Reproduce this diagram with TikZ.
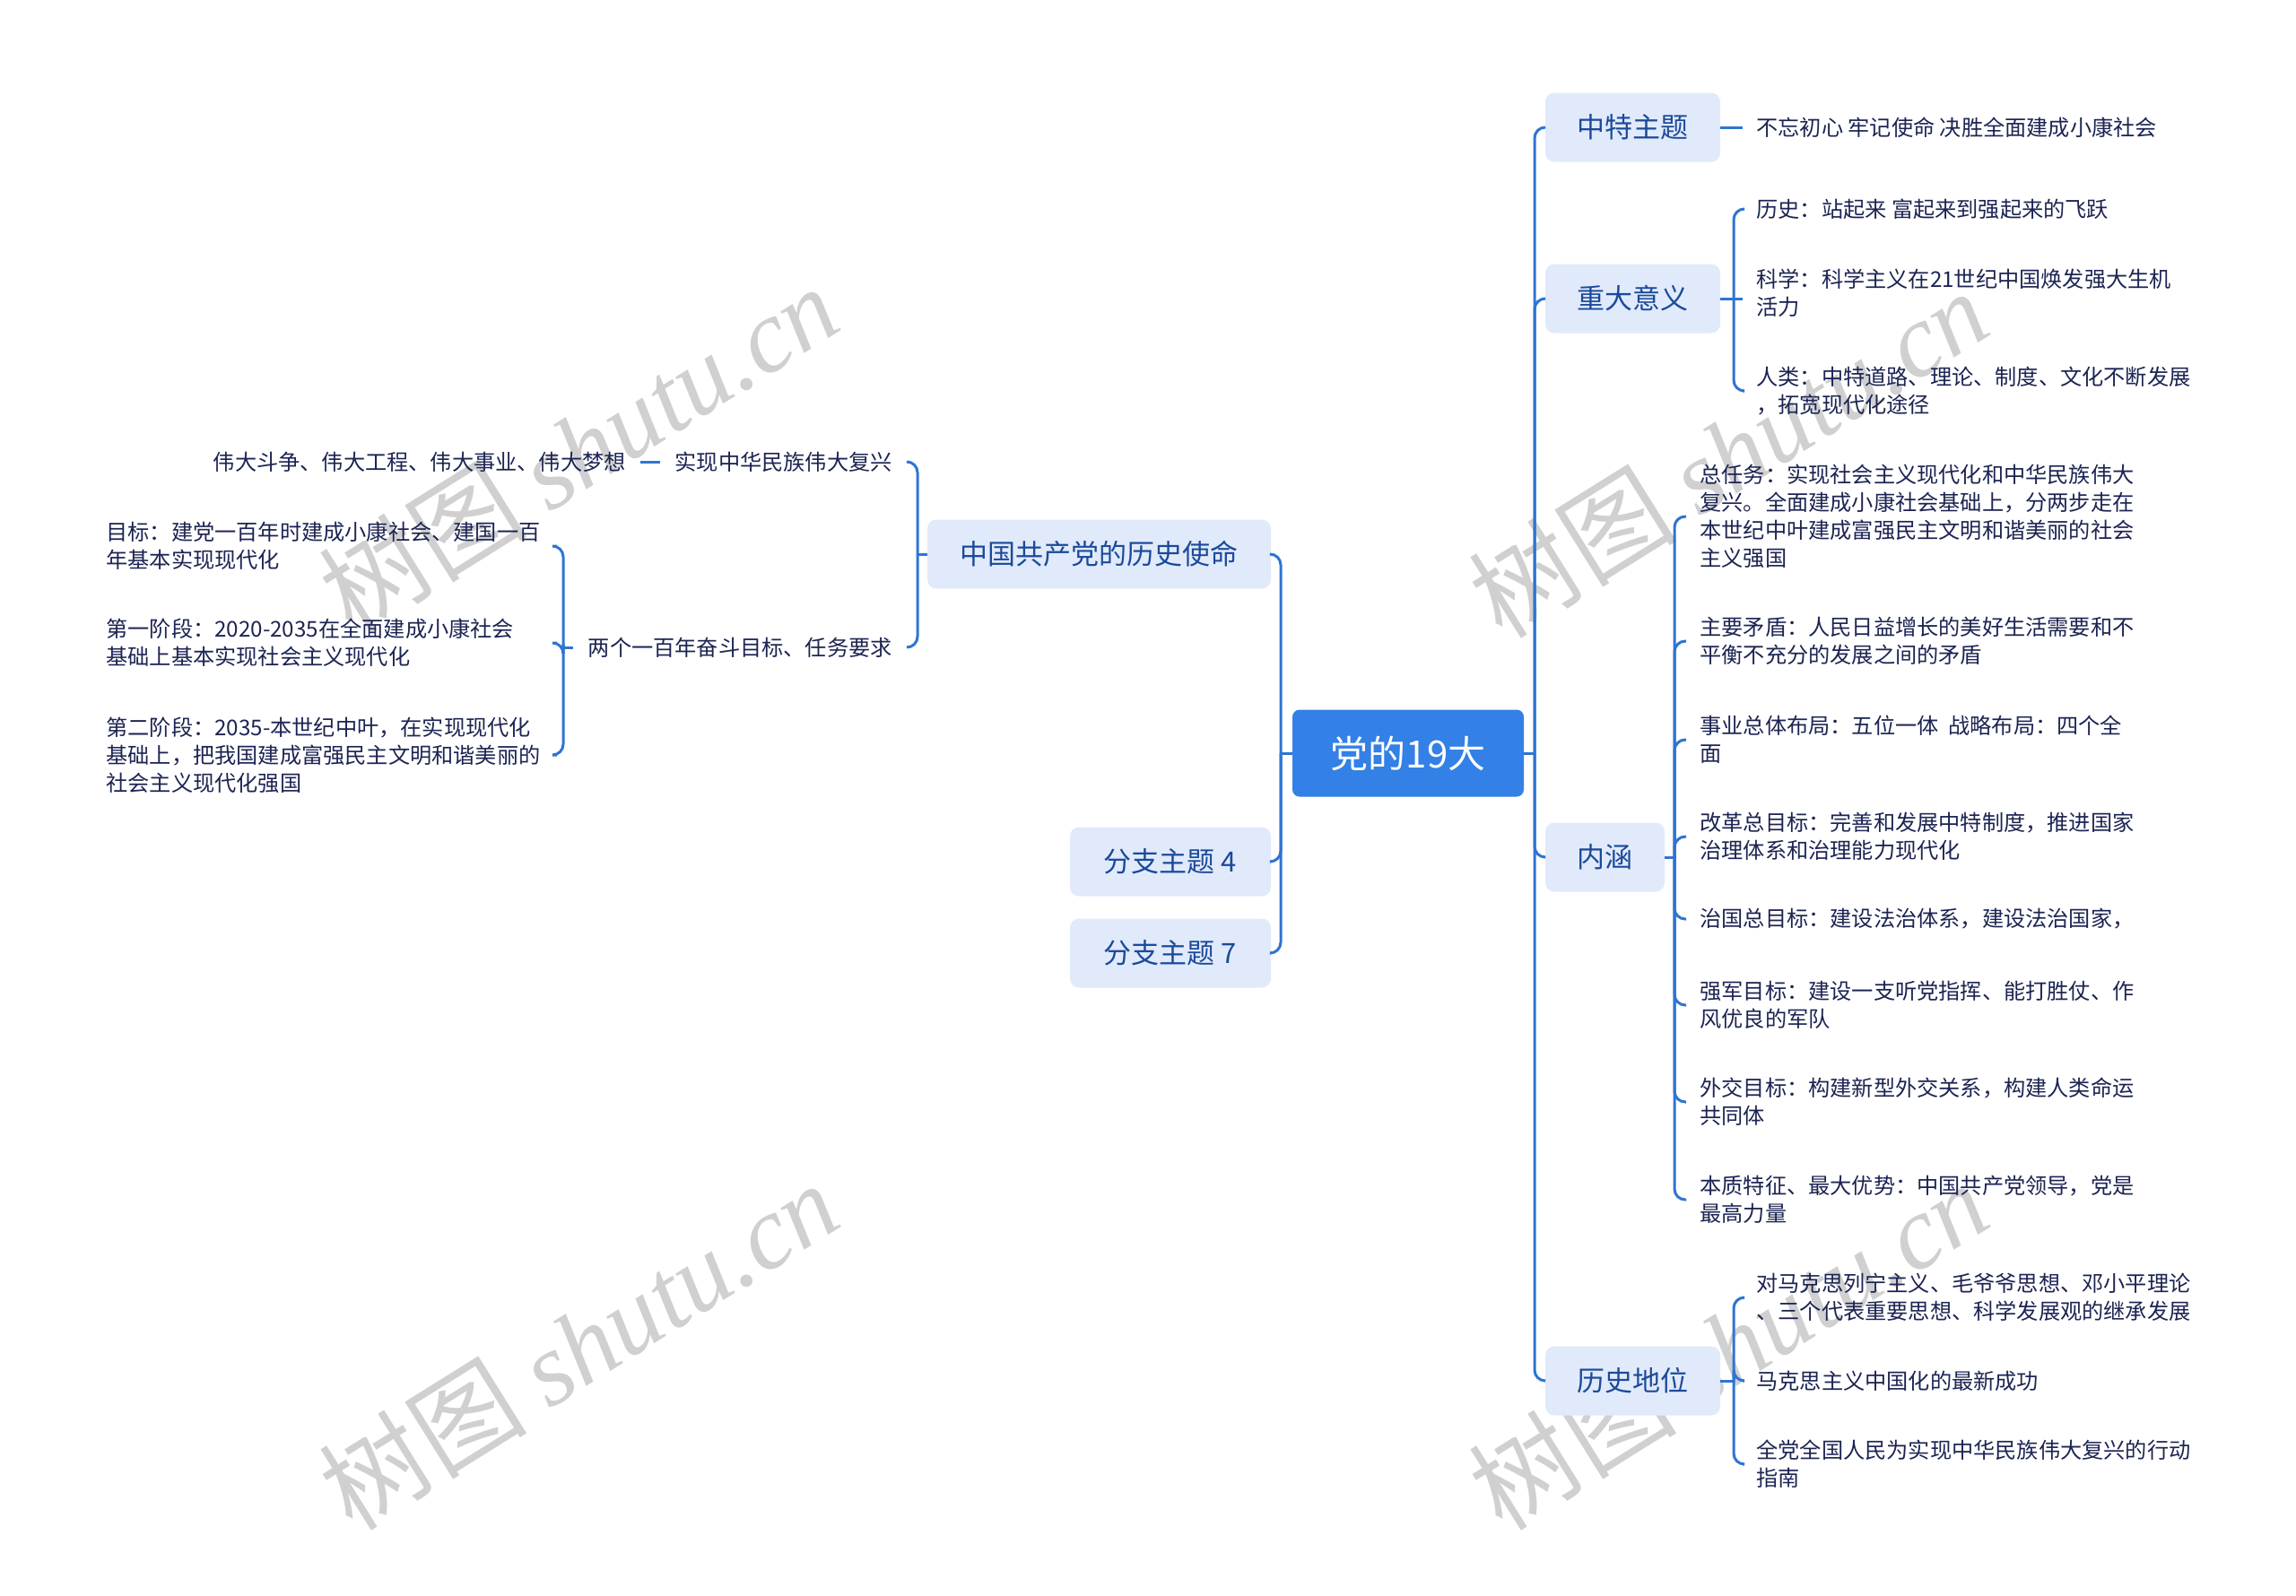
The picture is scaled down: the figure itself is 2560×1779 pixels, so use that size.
\documentclass[tikz,border=0pt]{standalone}
\usepackage{fontspec}
\setmainfont{Noto Sans CJK SC}
\newfontfamily\wmlatin{Liberation Serif}
\definecolor{lineblue}{HTML}{2F74D3}
\definecolor{rootblue}{HTML}{3380E6}
\definecolor{boxfill}{HTML}{E1EAFB}
\definecolor{maintext}{HTML}{1B4A9A}
\definecolor{childtext}{HTML}{1C2452}
\definecolor{wmgray}{HTML}{D0D0D0}
\begin{document}
\begin{tikzpicture}[x=0.5pt,y=-0.5pt,
  conn/.style={draw=lineblue, line width=1.5pt, rounded corners=6pt},
  rootbox/.style={fill=rootblue, rounded corners=4pt, text=white, font=\fontsize{21}{25}\selectfont, minimum width=129pt, minimum height=48.5pt, inner sep=0pt},
  mainbox/.style={fill=boxfill, rounded corners=5pt, text=maintext, font=\fontsize{15.5}{19}\selectfont, minimum height=38.5pt, inner sep=0pt},
  leaf/.style={text=childtext, font=\fontsize{12.1}{15.5}\selectfont, align=left, inner ysep=0pt, inner xsep=7.5pt},
  leftleaf/.style={leaf, inner xsep=6pt, text width=245pt},
  midleaf/.style={leaf, inner xsep=8pt},
  wm/.style={text=wmgray, rotate=32, font=\fontsize{58}{64}\selectfont}
]
\useasboundingbox (0,0) rectangle (2560,1779);

% watermarks
\node[wm] (wm1) at (645,500) {树图 {\wmlatin\itshape shutu.cn}};
\node[wm] (wm2) at (645,1500) {树图 {\wmlatin\itshape shutu.cn}};
\node[wm] (wm3) at (1927,505) {树图 {\wmlatin\itshape shutu.cn}};
\node[wm] (wm4) at (1927,1500) {树图 {\wmlatin\itshape shutu.cn}};

% root
\node[rootbox] (root) at (1570,840) {党的19大};
\coordinate (jR) at (1711,840);
\coordinate (jL) at (1428,840);

% right main branches
\node[mainbox, minimum width=97.5pt] (zt) at (1820.5,142) {中特主题};
\node[mainbox, minimum width=97.5pt] (zd) at (1820.5,333) {重大意义};
\node[mainbox, minimum width=66.5pt] (nh) at (1789.5,956) {内涵};
\node[mainbox, minimum width=97.5pt] (ls) at (1820.5,1540) {历史地位};

% left main branches
\node[mainbox, minimum width=191.5pt] (sm) at (1225.5,618) {中国共产党的历史使命};
\node[mainbox, minimum width=112pt] (b4) at (1305,961) {分支主题 4};
\node[mainbox, minimum width=112pt] (b7) at (1305,1063) {分支主题 7};

% right leaves
\node[leaf, anchor=west] (t1) at (1943,142) {不忘初心 牢记使命 决胜全面建成小康社会};
\node[leaf, anchor=west] (z1) at (1943,233) {历史：站起来 富起来到强起来的飞跃};
\node[leaf, anchor=west] (z2) at (1943,327) {科学：科学主义在21世纪中国焕发强大生机\\活力};
\node[leaf, anchor=west] (z3) at (1943,436) {人类：中特道路、理论、制度、文化不断发展\\，拓宽现代化途径};

\node[leaf, anchor=west] (n1) at (1880,576) {总任务：实现社会主义现代化和中华民族伟大\\复兴。全面建成小康社会基础上，分两步走在\\本世纪中叶建成富强民主文明和谐美丽的社会\\主义强国};
\node[leaf, anchor=west] (n2) at (1880,715) {主要矛盾：人民日益增长的美好生活需要和不\\平衡不充分的发展之间的矛盾};
\node[leaf, anchor=west] (n3) at (1880,825) {事业总体布局：五位一体\ \ 战略布局：四个全\\面};
\node[leaf, anchor=west] (n4) at (1880,933) {改革总目标：完善和发展中特制度，推进国家\\治理体系和治理能力现代化};
\node[leaf, anchor=west] (n5) at (1880,1025) {治国总目标：建设法治体系，建设法治国家，};
\node[leaf, anchor=west] (n6) at (1880,1121) {强军目标：建设一支听党指挥、能打胜仗、作\\风优良的军队};
\node[leaf, anchor=west] (n7) at (1880,1229) {外交目标：构建新型外交关系，构建人类命运\\共同体};
\node[leaf, anchor=west] (n8) at (1880,1338) {本质特征、最大优势：中国共产党领导，党是\\最高力量};

\node[leaf, anchor=west] (h1) at (1943,1447) {对马克思列宁主义、毛爷爷思想、邓小平理论\\、三个代表重要思想、科学发展观的继承发展};
\node[leaf, anchor=west] (h2) at (1943,1540) {马克思主义中国化的最新成功};
\node[leaf, anchor=west] (h3) at (1943,1633) {全党全国人民为实现中华民族伟大复兴的行动\\指南};

% left leaves
\node[midleaf, anchor=east] (sx) at (1011,515) {实现中华民族伟大复兴};
\node[midleaf, anchor=east] (wd) at (714,515) {伟大斗争、伟大工程、伟大事业、伟大梦想};
\node[midleaf, anchor=east] (lg) at (1011,722) {两个一百年奋斗目标、任务要求};
\node[leftleaf, anchor=west] (l1) at (106,609) {目标：建党一百年时建成小康社会、建国一百\\年基本实现现代化};
\node[leftleaf, anchor=west] (l2) at (106,717) {第一阶段：2020-2035在全面建成小康社会\\基础上基本实现社会主义现代化};
\node[leftleaf, anchor=west] (l3) at (106,842) {第二阶段：2035-本世纪中叶，在实现现代化\\基础上，把我国建成富强民主文明和谐美丽的\\社会主义现代化强国};

% junctions
\coordinate (jZ) at (1933,333);
\coordinate (jN) at (1867,956);
\coordinate (jH) at (1933,1540);
\coordinate (jS) at (1023,618);
\coordinate (jG) at (628,718);

% root connectors
\draw[conn] (root.east) -- (jR);
\draw[conn] (root.west) -- (jL);
\foreach \c in {zt,zd,nh,ls} { \draw[conn] (jR) -- (jR |- \c.west) -- (\c.west); }
\foreach \c in {sm,b4,b7} { \draw[conn] (jL) -- (jL |- \c.east) -- (\c.east); }

% right sub connectors
\draw[conn] (zt.east) -- (t1.west);
\draw[conn] (zd.east) -- (jZ);
\foreach \c in {z1,z3} { \draw[conn] (jZ) -- (jZ |- \c.west) -- (\c.west); }
\draw[conn] (jZ) -- (jZ -| z2.west);
\draw[conn] (nh.east) -- (jN);
\foreach \c in {n1,n2,n3,n4,n5,n6,n7,n8} { \draw[conn] (jN) -- (jN |- \c.west) -- (\c.west); }
\draw[conn] (ls.east) -- (jH);
\foreach \c in {h1,h2,h3} { \draw[conn] (jH) -- (jH |- \c.west) -- (\c.west); }

% left sub connectors
\draw[conn] (sm.west) -- (jS);
\foreach \c in {sx,lg} { \draw[conn] (jS) -- (jS |- \c.east) -- (\c.east); }
\draw[conn] (sx.west) -- (wd.east);
\draw[conn] (lg.west) -- (lg.west -| jG);
\foreach \c in {l1,l2,l3} { \draw[conn] (jG) -- (jG |- \c.east) -- (\c.east); }
\end{tikzpicture}
\end{document}
